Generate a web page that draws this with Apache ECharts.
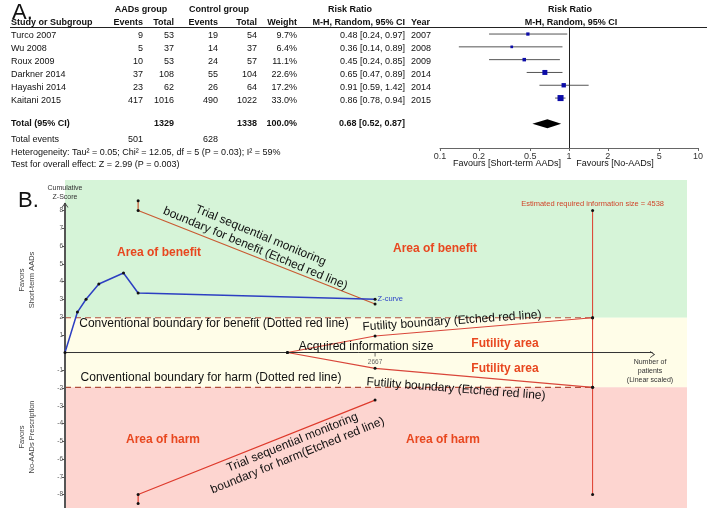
<!DOCTYPE html>
<html>
<head>
<meta charset="utf-8">
<title>Short-term AADs: forest plot and TSA</title>
<script src="https://cdn.jsdelivr.net/npm/echarts@6/dist/echarts.min.js"></script>
<style>
  html, body { margin: 0; padding: 0; background: #fff; }
  #chart { width: 709px; height: 512px; }
</style>
</head>
<body>
<div id="chart"></div>
<script>
// ---- panel A data (meta-analysis) ----
const studies = ['Turco 2007', 'Wu 2008', 'Roux 2009', 'Darkner 2014', 'Hayashi 2014', 'Kaitani 2015']
const aadEvents = [9, 5, 10, 37, 23, 417]
const aadTotal = [53, 37, 53, 108, 62, 1016]
const ctrlEvents = [19, 14, 24, 55, 26, 490]
const ctrlTotal = [54, 37, 57, 104, 64, 1022]
const weights = [9.7, 6.4, 11.1, 22.6, 17.2, 33.0]
const rr = [0.48, 0.36, 0.45, 0.65, 0.91, 0.86]
const rrLow = [0.24, 0.14, 0.24, 0.47, 0.59, 0.78]
const rrHigh = [0.97, 0.89, 0.85, 0.89, 1.42, 0.94]
const years = [2007, 2008, 2009, 2014, 2014, 2015]
const pooled = [0.68, 0.52, 0.87]   // estimate, low, high
const forestTicks = [0.1, 0.2, 0.5, 1, 2, 5, 10]

// ---- panel B data (trial sequential analysis) ----
const zPatients = [0, 107, 181, 291, 503, 629, 2667]
const zScores = [0, 2.28, 3.0, 3.86, 4.48, 3.35, 3.0]
const benefitPatients = [629, 629, 2667]
const benefitZ = [8.55, 8.0, 2.73]
const harmPatients = [629, 629, 2667]
const harmZ = [-8.5, -8.0, -2.68]
const futilityPatients = [1913, 2667, 4538]
const futilityUpperZ = [0, 0.93, 1.96]
const futilityLowerZ = [0, -0.89, -1.96]
const requiredSize = 4538
const acquiredSize = 2667
const conventionalZ = 1.96
const risTopZ = 8
const zTicks = [-8, -7, -6, -5, -4, -3, -2, -1, 1, 2, 3, 4, 5, 6, 7, 8]

const zMin = -8.76, zMax = 9.72, patientsMax = 5350
const totalRow = 7

const FONT = "'Liberation Sans', Arial, sans-serif"
const font = (size, bold) => (bold ? 'bold ' : '') + size + 'px ' + FONT
const sum = arr => arr.reduce((a, b) => a + b, 0)
const ci = (e, l, h) => e.toFixed(2) + ' [' + l.toFixed(2) + ', ' + h.toFixed(2) + ']'

// text helper for the table and annotations
const graphics = []
function text(x, y, str, size, opts) {
  opts = opts || {}
  const align = opts.align || 'left'
  graphics.push({
    type: 'text', x: x, y: y, rotation: opts.rotation || 0, silent: true, z: 100,
    style: {
      text: str, font: font(size, opts.bold), fill: opts.color || '#111',
      align: align, textAlign: align, verticalAlign: 'middle', textVerticalAlign: 'middle',
      lineHeight: opts.lineHeight || size + 2
    }
  })
}

// panel A table
const rowY = i => 35.7 + 12.95 * i
text(12, 13, 'A.', 22)
text(141, 10, 'AADs group', 9, { bold: true, align: 'center' })
text(219, 10, 'Control group', 9, { bold: true, align: 'center' })
text(350, 10, 'Risk Ratio', 9, { bold: true, align: 'center' })
text(570, 10, 'Risk Ratio', 9, { bold: true, align: 'center' })
text(11, 23, 'Study or Subgroup', 9, { bold: true })
text(143, 23, 'Events', 9, { bold: true, align: 'right' })
text(174, 23, 'Total', 9, { bold: true, align: 'right' })
text(218, 23, 'Events', 9, { bold: true, align: 'right' })
text(257, 23, 'Total', 9, { bold: true, align: 'right' })
text(297, 23, 'Weight', 9, { bold: true, align: 'right' })
text(405, 23, 'M-H, Random, 95% CI', 9, { bold: true, align: 'right' })
text(411, 23, 'Year', 9, { bold: true })
text(571, 23, 'M-H, Random, 95% CI', 9, { bold: true, align: 'center' })
graphics.push({ type: 'line', silent: true, shape: { x1: 10, y1: 27.5, x2: 707, y2: 27.5 }, style: { stroke: '#222', lineWidth: 1 } })

studies.forEach((s, i) => {
  const y = rowY(i)
  text(11, y, s, 9)
  text(143, y, String(aadEvents[i]), 9, { align: 'right' })
  text(174, y, String(aadTotal[i]), 9, { align: 'right' })
  text(218, y, String(ctrlEvents[i]), 9, { align: 'right' })
  text(257, y, String(ctrlTotal[i]), 9, { align: 'right' })
  text(297, y, weights[i].toFixed(1) + '%', 9, { align: 'right' })
  text(405, y, ci(rr[i], rrLow[i], rrHigh[i]), 9, { align: 'right' })
  text(411, y, String(years[i]), 9)
})
text(11, 124, 'Total (95% CI)', 9, { bold: true })
text(174, 124, String(sum(aadTotal)), 9, { bold: true, align: 'right' })
text(257, 124, String(sum(ctrlTotal)), 9, { bold: true, align: 'right' })
text(297, 124, sum(weights).toFixed(1) + '%', 9, { bold: true, align: 'right' })
text(405, 124, ci(pooled[0], pooled[1], pooled[2]), 9, { bold: true, align: 'right' })
text(11, 139.5, 'Total events', 9)
text(143, 139.5, String(sum(aadEvents)), 9, { align: 'right' })
text(218, 139.5, String(sum(ctrlEvents)), 9, { align: 'right' })
text(11, 152.5, 'Heterogeneity: Tau\u00b2 = 0.05; Chi\u00b2 = 12.05, df = 5 (P = 0.03); I\u00b2 = 59%', 9)
text(11, 165, 'Test for overall effect: Z = 2.99 (P = 0.003)', 9)
text(507, 164, 'Favours [Short-term AADs]', 9, { align: 'center' })
text(615, 164, 'Favours [No-AADs]', 9, { align: 'center' })

// panel B annotations
const red = '#e8471f'
text(18, 201, 'B.', 22)
text(65, 192.5, 'Cumulative\nZ-Score', 7, { align: 'center', color: '#333', lineHeight: 9 })
text(27, 280, 'Favors\nShort-term AADs', 7.5, { align: 'center', color: '#444', lineHeight: 10, rotation: Math.PI / 2 })
text(27, 437, 'Favors\nNo-AADs Prescription', 7.5, { align: 'center', color: '#444', lineHeight: 10, rotation: Math.PI / 2 })
text(159, 253, 'Area of benefit', 12, { bold: true, align: 'center', color: red })
text(435, 249, 'Area of benefit', 12, { bold: true, align: 'center', color: red })
text(505, 344, 'Futility area', 12, { bold: true, align: 'center', color: red })
text(505, 369, 'Futility area', 12, { bold: true, align: 'center', color: red })
text(163, 440, 'Area of harm', 12, { bold: true, align: 'center', color: red })
text(443, 440, 'Area of harm', 12, { bold: true, align: 'center', color: red })
text(258, 242, 'Trial sequential monitoring\nboundary for benefit (Etched red line)', 12,
  { align: 'center', lineHeight: 14, rotation: -22.5 * Math.PI / 180 })
text(295, 449, 'Trial sequential monitoring\nboundary for harm(Etched red line)', 12,
  { align: 'center', lineHeight: 14, rotation: 22 * Math.PI / 180 })
text(214, 324, 'Conventional boundary for benefit (Dotted red line)', 12, { align: 'center' })
text(211, 378, 'Conventional boundary for harm (Dotted red line)', 12, { align: 'center' })
text(452, 321, 'Futility boundary (Etched red line)', 12, { align: 'center', rotation: 4 * Math.PI / 180 })
text(456, 389, 'Futility boundary (Etched red line)', 12, { align: 'center', rotation: -4.5 * Math.PI / 180 })
text(366, 347, 'Acquired information size', 12, { align: 'center' })
text(650, 371, 'Number of\npatients\n(Linear scaled)', 7, { align: 'center', color: '#333', lineHeight: 9 })

const xy = (xs, ys) => xs.map((x, i) => [x, ys[i]])
const chevron = 'path://M0,8 L6,0 L12,8 L10.5,8 L6,2.2 L1.5,8 Z'
const tsaLine = (name, data, color, extra) => Object.assign({
  name: name, type: 'line', xAxisIndex: 1, yAxisIndex: 1, data: data, z: 5,
  symbol: 'circle', symbolSize: 3, showSymbol: true, silent: true,
  itemStyle: { color: '#111' }, lineStyle: { color: color, width: 1.2 }
}, extra || {})

const chart = echarts.init(document.getElementById('chart'))
chart.setOption({
  animation: false,
  textStyle: { fontFamily: FONT },
  grid: [
    { left: 440, top: 27, width: 258, height: 121 },
    { left: 65, top: 180, width: 622, height: 328 }
  ],
  xAxis: [
    {
      gridIndex: 0, type: 'log', logBase: 10, min: 0.1, max: 10, position: 'bottom',
      axisLine: { show: true, onZero: false, lineStyle: { color: '#666' } },
      axisTick: { show: true, customValues: forestTicks, length: 3, lineStyle: { color: '#666' } },
      axisLabel: { customValues: forestTicks, fontSize: 9, color: '#333', margin: 4, formatter: v => String(+v.toPrecision(2)) },
      splitLine: { show: false }
    },
    { gridIndex: 1, type: 'value', min: 0, max: patientsMax, show: false }
  ],
  yAxis: [
    { gridIndex: 0, type: 'value', min: -0.55, max: 8.9, inverse: true, show: false },
    {
      gridIndex: 1, type: 'value', min: zMin, max: zMax,
      axisLine: { show: false },
      axisTick: { show: true, customValues: zTicks, length: 3, lineStyle: { color: '#555' } },
      axisLabel: { customValues: zTicks, fontSize: 6.5, color: '#555', margin: 2 },
      splitLine: { show: false }
    }
  ],
  series: [
    // forest: confidence intervals
    {
      type: 'custom', xAxisIndex: 0, yAxisIndex: 0, silent: true,
      data: studies.map((s, i) => [rrLow[i], rrHigh[i], i]),
      encode: { x: [0, 1], y: 2 },
      renderItem: (params, api) => {
        const a = api.coord([api.value(0), api.value(2)])
        const b = api.coord([api.value(1), api.value(2)])
        return { type: 'line', shape: { x1: a[0], y1: a[1], x2: b[0], y2: b[1] }, style: { stroke: '#555', lineWidth: 1 } }
      },
      markLine: {
        silent: true, symbol: 'none', label: { show: false },
        lineStyle: { color: '#222', width: 1, type: 'solid' },
        data: [{ xAxis: 1 }]
      }
    },
    // forest: study estimates sized by weight
    {
      type: 'scatter', xAxisIndex: 0, yAxisIndex: 0, silent: true, z: 4,
      symbol: 'rect',
      data: studies.map((s, i) => ({ value: [rr[i], i], symbolSize: Math.sqrt(weights[i]) * 1.05 })),
      itemStyle: { color: '#0c0ca8', opacity: 1 }
    },
    // forest: pooled diamond
    {
      type: 'custom', xAxisIndex: 0, yAxisIndex: 0, silent: true,
      data: [[pooled[0], pooled[1], pooled[2], totalRow]],
      encode: { x: [0, 1, 2], y: 3 },
      renderItem: (params, api) => {
        const row = api.value(3)
        const c = api.coord([api.value(0), row])
        const l = api.coord([api.value(1), row])
        const r = api.coord([api.value(2), row])
        return {
          type: 'polygon',
          shape: { points: [[l[0], c[1]], [c[0], c[1] - 4.5], [r[0], c[1]], [c[0], c[1] + 4.5]] },
          style: { fill: '#000' }
        }
      }
    },
    // TSA: coloured zones
    {
      type: 'line', xAxisIndex: 1, yAxisIndex: 1, data: [], z: 0, silent: true,
      markArea: {
        silent: true, label: { show: false },
        data: [
          [{ yAxis: conventionalZ, itemStyle: { color: '#d6f4d8' } }, { yAxis: zMax }],
          [{ yAxis: -conventionalZ, itemStyle: { color: '#fffde8' } }, { yAxis: conventionalZ }],
          [{ yAxis: zMin, itemStyle: { color: '#fdd5d0' } }, { yAxis: -conventionalZ }]
        ]
      }
    },
    tsaLine('conv benefit', [[0, conventionalZ], [requiredSize, conventionalZ]], '#b0503c',
      { symbol: 'none', lineStyle: { color: '#b0503c', width: 1.2, type: [6, 4] } }),
    tsaLine('conv harm', [[0, -conventionalZ], [requiredSize, -conventionalZ]], '#b0503c',
      { symbol: 'none', lineStyle: { color: '#b0503c', width: 1.2, type: [6, 4] } }),
    tsaLine('RIS', [
      { value: [requiredSize, risTopZ], label: { show: true, position: 'top', distance: 1, formatter: 'Estimated required information size = ' + requiredSize, color: '#d0452a', fontSize: 7.5 } },
      [requiredSize, conventionalZ], [requiredSize, -conventionalZ], [requiredSize, -risTopZ]
    ], '#dd3b2b', { lineStyle: { color: '#dd3b2b', width: 1 } }),
    tsaLine('futility upper', xy(futilityPatients, futilityUpperZ), '#d9463a'),
    tsaLine('futility lower', xy(futilityPatients, futilityLowerZ), '#d9463a'),
    tsaLine('benefit boundary', xy(benefitPatients, benefitZ), '#c95a32'),
    tsaLine('harm boundary', xy(harmPatients, harmZ), '#de3a2c'),
    // axes drawn as lines with open arrow heads
    tsaLine('y axis', [[0, zMin], { value: [0, 8.42], symbol: chevron, symbolSize: [7, 5], symbolOffset: [0, 2] }], '#555',
      { symbolSize: 0, itemStyle: { color: '#444' }, lineStyle: { color: '#555', width: 2 } }),
    tsaLine('x axis', [[0, 0], { value: [5054, 0], symbol: chevron, symbolSize: [7, 5], symbolRotate: -90, symbolOffset: [0, 2] }], '#333',
      { symbolSize: 0, itemStyle: { color: '#333' }, lineStyle: { color: '#333', width: 1 } }),
    // acquired information size tick on the patient axis
    {
      type: 'scatter', xAxisIndex: 1, yAxisIndex: 1, silent: true, z: 6,
      symbol: 'rect', symbolSize: [1, 4], symbolOffset: [0, 2],
      itemStyle: { color: '#444' },
      label: { show: true, position: 'bottom', distance: 2, formatter: String(acquiredSize), fontSize: 6.5, color: '#444' },
      data: [[acquiredSize, 0]]
    },
    tsaLine('Z-curve', xy(zPatients, zScores).map((p, i, arr) => i === arr.length - 1
      ? { value: p, label: { show: true, position: 'right', distance: 1, formatter: 'Z-curve', color: '#2f45c8', fontSize: 7.5 } }
      : p), '#2d3fc2', { z: 6, lineStyle: { color: '#2d3fc2', width: 1.5 } })
  ],
  graphic: { elements: graphics }
})
</script>
</body>
</html>
